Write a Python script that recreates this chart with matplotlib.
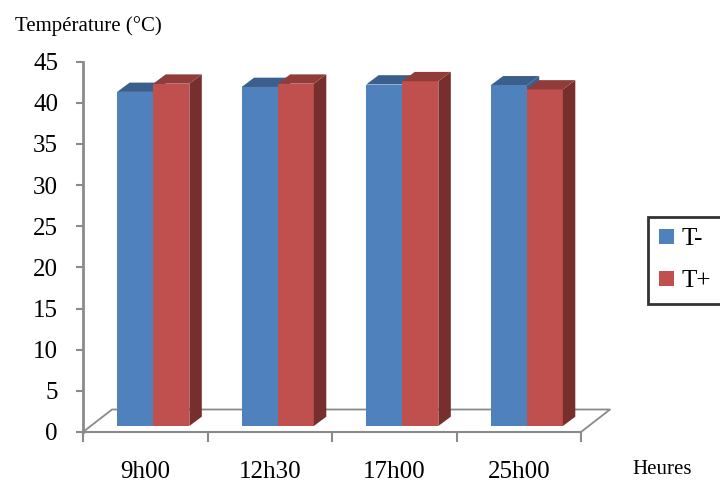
import matplotlib
matplotlib.use("Agg")
import matplotlib.pyplot as plt
import matplotlib.transforms as mtransforms
from matplotlib.patches import Polygon

plt.rcParams['font.family'] = ['Liberation Serif', 'DejaVu Serif']

# data
heures = ["9h00", "12h30", "17h00", "25h00"]
t_moins = [40.6, 41.2, 41.5, 41.4]
t_plus = [41.6, 41.6, 41.9, 40.9]
y_ticks = list(range(0, 50, 5))

BLUE, BLUE_TOP = "#4F81BD", "#3B5F8C"
RED, RED_TOP, RED_SIDE = "#C0504D", "#923C3A", "#772F2D"
GREY = "#8A8A8A"

W = 0.29            # bar width (category units)
DX, DY = 0.10, 1.13  # depth of a bar (data units)

fig = plt.figure(figsize=(7.2, 4.83), dpi=100)
ax = fig.add_axes([83 / 720, 51 / 483, 498 / 720, 370.3 / 483])
ax.set_xlim(-0.5, 3.5)
ax.set_ylim(0, 45)

# bars sit a bit behind the front axis -> shift a few pixels
tr = mtransforms.offset_copy(ax.transData, fig=fig, x=8, y=6, units="dots")

x = range(len(heures))
for i in x:
    hb = t_moins[i]
    x0, xm = i - W, i
    # blue side + top (red bar is drawn over the overlap)
    ax.add_patch(Polygon([(xm, 0), (xm + DX, DY), (xm + DX, hb + DY), (xm, hb)],
                         closed=True, fc=BLUE_TOP, ec="none", transform=tr))
    ax.add_patch(Polygon([(x0, hb), (xm, hb), (xm + DX, hb + DY), (x0 + DX, hb + DY)],
                         closed=True, fc=BLUE_TOP, ec="none", transform=tr))
bars_b = ax.bar([i - W / 2 for i in x], t_moins, W, color=BLUE, transform=tr, label="T-")
bars_r = ax.bar([i + W / 2 for i in x], t_plus, W, color=RED, transform=tr, label="T+")
for i in x:
    hr = t_plus[i]
    xm, x1 = i, i + W
    ax.add_patch(Polygon([(x1, 0), (x1 + DX, DY), (x1 + DX, hr + DY), (x1, hr)],
                         closed=True, fc=RED_SIDE, ec="none", transform=tr))
    ax.add_patch(Polygon([(xm, hr), (x1, hr), (x1 + DX, hr + DY), (xm + DX, hr + DY)],
                         closed=True, fc=RED_TOP, ec="none", transform=tr))

# floor outline
fdx, fdy = 29 / 498, 22.5 / 370.3
ax.plot([0, fdx, 1 + fdx, 1], [0, fdy, fdy, 0], color=GREY, lw=1.3,
        transform=ax.transAxes, clip_on=False, zorder=0)

for s in ["top", "right"]:
    ax.spines[s].set_visible(False)
ax.spines["left"].set_color(GREY)
ax.spines["left"].set_linewidth(2)
ax.spines["bottom"].set_color(GREY)
ax.spines["bottom"].set_linewidth(1.5)

ax.set_yticks(y_ticks)
ax.tick_params(axis="y", direction="out", length=5, width=1.5, color=GREY,
               labelsize=18, pad=13)
ax.set_xticks(list(x))
ax.set_xticklabels(heures)
ax.set_xticks([i - 0.5 for i in range(len(heures) + 1)], minor=True)
ax.tick_params(axis="x", which="major", length=0, labelsize=18, pad=21)
ax.tick_params(axis="x", which="minor", direction="out", length=7, width=1.5, color=GREY)

fig.text(15 / 720, 1 - 26 / 483, "Température (°C)", fontsize=15, va="center")
fig.text(632 / 720, 1 - 470 / 483, "Heures", fontsize=15, va="center")

leg = fig.legend(handles=[bars_b, bars_r], loc="upper left",
                 bbox_to_anchor=(648 / 720, 1 - 217 / 483), fontsize=18,
                 frameon=True, fancybox=False, edgecolor="black",
                 handlelength=0.6, handleheight=0.6, handletextpad=0.3,
                 labelspacing=0.8, borderpad=0.45, borderaxespad=0)
leg.get_frame().set_linewidth(2)

fig.savefig("out.png", dpi=100)
